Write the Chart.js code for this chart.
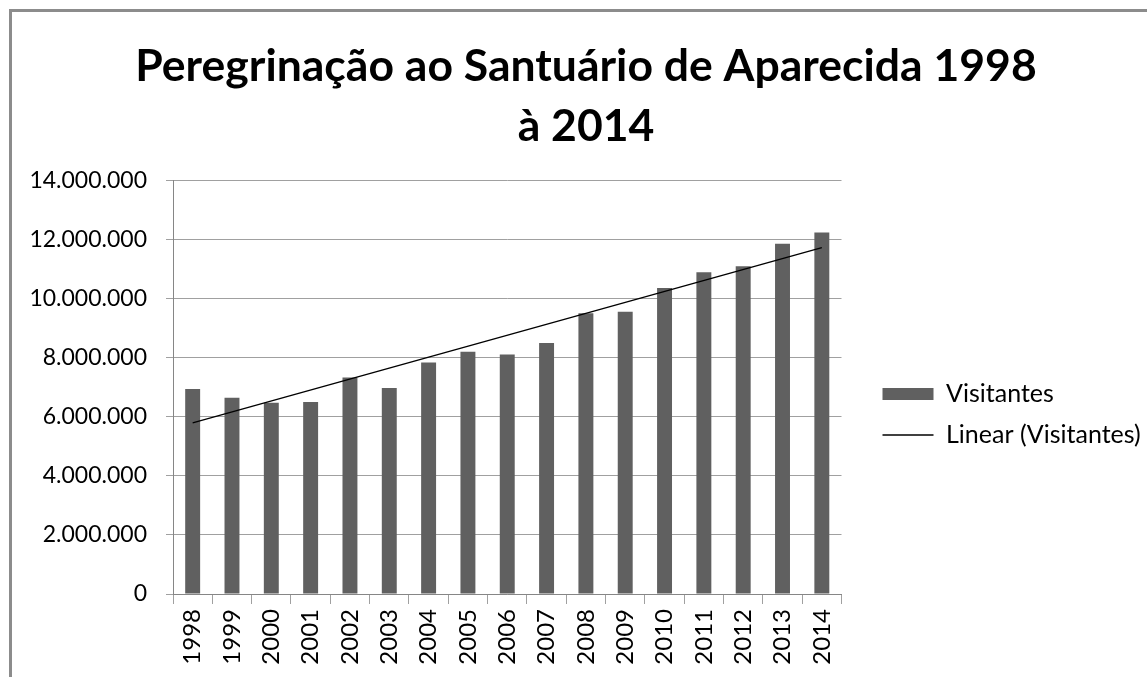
<!DOCTYPE html>
<html>
<head>
<meta charset="utf-8">
<script src="https://cdn.jsdelivr.net/npm/chart.js@4.4.1/dist/chart.umd.min.js"></script>
<style>
  html, body { margin: 0; padding: 0; background: #fff; overflow: hidden; }
  #frame {
    position: absolute; left: 9px; top: 9px;
    border-left: 3px solid #8c8c8c; border-top: 3px solid #8c8c8c;
    width: 1148px; height: 665px;
  }
  #chart { display: block; }
</style>
</head>
<body>
<div id="frame"><canvas id="chart" width="1148" height="665"></canvas></div>
<script>
const years = ['1998', '1999', '2000', '2001', '2002', '2003', '2004', '2005', '2006',
               '2007', '2008', '2009', '2010', '2011', '2012', '2013', '2014'];
const visitantes = [6950000, 6650000, 6480000, 6510000, 7340000, 6980000, 7850000, 8210000, 8120000,
                    8510000, 9520000, 9570000, 10370000, 10910000, 11110000, 11870000, 12250000];
// trendline end points
const trendStart = 5800000;
const trendEnd = 11740000;
const titleLines = ['Peregrinação ao Santuário de Aparecida 1998', 'à 2014'];

const trend = years.map((y, i) => i === 0 ? trendStart : (i === years.length - 1 ? trendEnd : null));

const fmt = v => String(v).replace(/\B(?=(\d{3})+(?!\d))/g, '.');
const FONT = 'Lato';

new Chart(document.getElementById('chart'), {
    type: 'bar',
    data: {
        labels: years,
        datasets: [{
            label: 'Visitantes',
            data: visitantes,
            backgroundColor: '#606060',
            borderWidth: 0,
            categoryPercentage: 1,
            barPercentage: 0.38,
            pointStyle: 'rect',
            order: 2
        }, {
            type: 'line',
            label: 'Linear (Visitantes)',
            data: trend,
            spanGaps: true,
            borderColor: '#000',
            borderWidth: 1.3,
            pointRadius: 0,
            pointStyle: 'line',
            fill: false,
            order: 1
        }]
    },
    options: {
        responsive: false,
        animation: false,
        layout: { padding: { left: 13, right: 13, top: 0, bottom: 0 } },
        plugins: {
            tooltip: { enabled: false },
            title: {
                display: true,
                text: titleLines,
                color: '#000',
                font: { family: FONT, size: 44.5, weight: 'bold', lineHeight: 1.348 },
                padding: { top: 25, bottom: 24 }
            },
            legend: {
                position: 'right',
                fullSize: false,
                align: 'center',
                title: { display: true, text: ' ', font: { size: 10 }, padding: { top: 21, bottom: 21 } },
                labels: {
                    usePointStyle: true,
                    pointStyleWidth: 51,
                    boxHeight: 12,
                    padding: 16,
                    color: '#000',
                    font: { family: FONT, size: 25 },
                    sort: (a, b) => a.datasetIndex - b.datasetIndex
                }
            }
        },
        scales: {
            x: {
                grid: {
                    display: true, offset: true, drawOnChartArea: false,
                    tickLength: 10, color: '#a0a0a0'
                },
                border: { color: '#868686', width: 1 },
                ticks: {
                    minRotation: 90, maxRotation: 90, padding: 5,
                    color: '#000', font: { family: FONT, size: 24 }
                },
                afterFit: s => { s.height = 83; }
            },
            y: {
                min: 0, max: 14000000,
                grid: { color: '#a0a0a0', tickLength: 7, lineWidth: 1 },
                border: { color: '#868686', width: 1 },
                ticks: {
                    stepSize: 2000000, padding: 19,
                    color: '#000', font: { family: FONT, size: 23 },
                    callback: v => fmt(v)
                },
                afterFit: s => { s.width = 148; }
            },
            gap: {
                position: 'right', display: false,
                afterFit: s => { s.width = 25; }
            }
        }
    }
});
</script>
</body>
</html>
